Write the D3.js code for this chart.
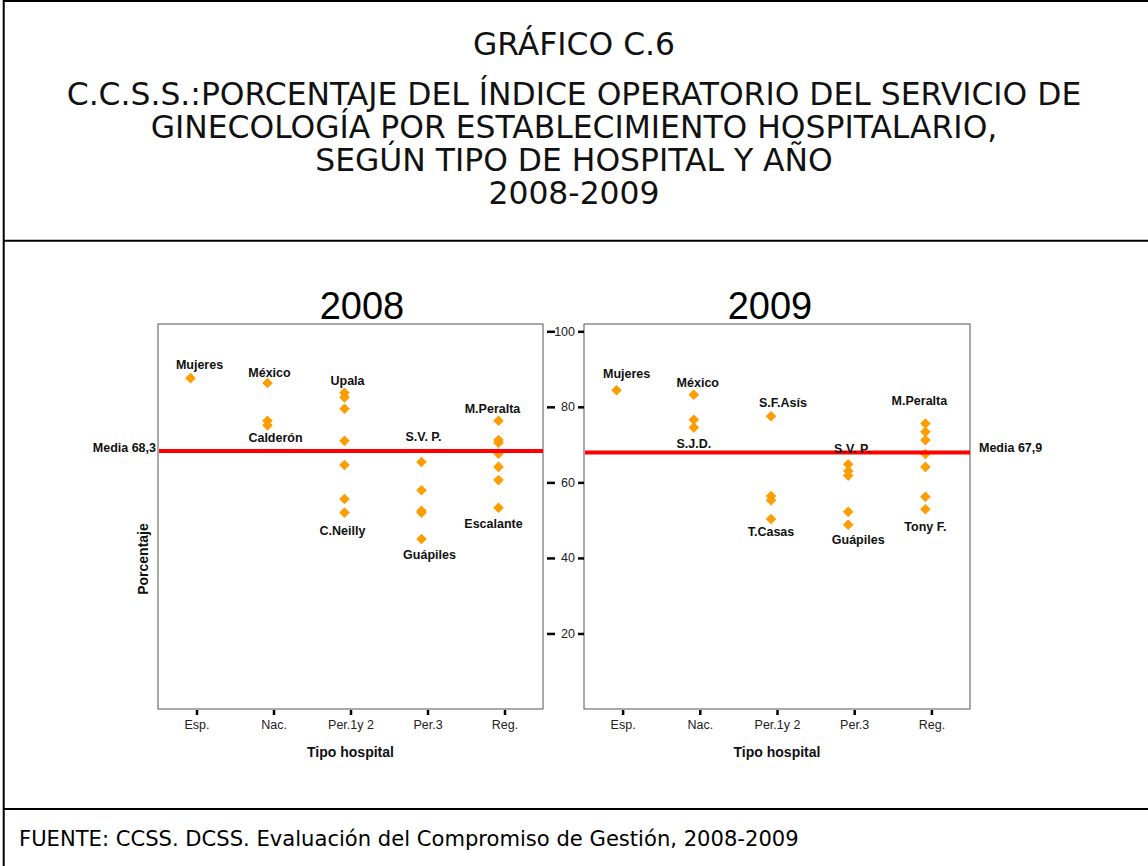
<!DOCTYPE html>
<html>
<head>
<meta charset="utf-8">
<script src="https://cdn.jsdelivr.net/npm/d3@7"></script>
<style>
  html, body { margin: 0; padding: 0; background: #fff; }
  svg { display: block; }
</style>
</head>
<body>
<script>
// ---------------- DATA ----------------
const categories = ["Esp.", "Nac.", "Per.1y 2", "Per.3", "Reg."];
const years = ["2008", "2009"];

const values2008 = [
  [87.6],
  [86.3, 76.3, 75.1],
  [83.7, 82.5, 79.5, 71.0, 64.6, 55.6, 52.0],
  [65.4, 57.9, 52.5, 52.0, 45.0],
  [76.3, 71.2, 70.5, 67.6, 64.1, 60.6, 53.3]
];
const values2009 = [
  [84.4],
  [83.2, 76.6, 74.5],
  [77.5, 56.4, 55.3, 50.3],
  [64.8, 63.0, 61.8, 52.2, 48.8],
  [75.6, 73.4, 71.2, 67.5, 64.1, 56.2, 52.9]
];
const means = [68.3, 67.9];
const meanLabels = ["Media 68,3", "Media 67,9"];
const yTicks = [20, 40, 60, 80, 100];

// hospital name annotations: category and value where the name sits
const names2008 = [
  { text: "Mujeres",   cat: "Esp.",     v: 91.0 },
  { text: "México",    cat: "Nac.",     v: 88.9 },
  { text: "Calderón",  cat: "Nac.",     v: 71.7 },
  { text: "Upala",     cat: "Per.1y 2", v: 86.8 },
  { text: "C.Neilly",  cat: "Per.1y 2", v: 47.2 },
  { text: "S.V. P.",   cat: "Per.3",    v: 72.0 },
  { text: "Guápiles",  cat: "Per.3",    v: 40.7 },
  { text: "M.Peralta", cat: "Reg.",     v: 79.4 },
  { text: "Escalante", cat: "Reg.",     v: 48.9 }
];
const names2009 = [
  { text: "Mujeres",   cat: "Esp.",     v: 88.6 },
  { text: "México",    cat: "Nac.",     v: 86.3 },
  { text: "S.J.D.",    cat: "Nac.",     v: 70.1 },
  { text: "S.F.Asís",  cat: "Per.1y 2", v: 80.9 },
  { text: "T.Casas",   cat: "Per.1y 2", v: 46.9 },
  { text: "S.V. P.",   cat: "Per.3",    v: 68.8 },
  { text: "Guápiles",  cat: "Per.3",    v: 44.7 },
  { text: "M.Peralta", cat: "Reg.",     v: 81.5 },
  { text: "Tony F.",   cat: "Reg.",     v: 48.2 }
];

const titleLines = [
  "GRÁFICO C.6",
  "C.C.S.S.:PORCENTAJE DEL ÍNDICE OPERATORIO DEL SERVICIO DE",
  "GINECOLOGÍA POR ESTABLECIMIENTO HOSPITALARIO,",
  "SEGÚN TIPO DE HOSPITAL Y AÑO",
  "2008-2009"
];
const footerText = "FUENTE: CCSS. DCSS. Evaluación del Compromiso de Gestión, 2008-2009";
const xTitle = "Tipo hospital";
const yTitle = "Porcentaje";

// ---------------- LAYOUT ----------------
const W = 1148, H = 866;
const panels = [{ x0: 158, x1: 543, tx: 362 }, { x0: 584, x1: 970, tx: 770 }];
const plotTop = 324, plotBottom = 709;
const markerShift = -6;        // markers sit slightly left of the tick in the original
const nameDx = [                // horizontal nudges of the name labels
  [3, -4, 2, -3, -8, -4, 2, -12, -11],
  [4, -2, -6, 6, -6, -2, 4, -12, -6]
];
const sans = "Arial, 'Liberation Sans', Helvetica, sans-serif";
const verd = "Verdana, 'DejaVu Sans', sans-serif";

const svg = d3.select("body").append("svg").attr("width", W).attr("height", H);

// outer borders
const border = svg.append("g").attr("stroke", "#000").attr("stroke-width", 2);
border.append("line").attr("x1", 3.7).attr("x2", 3.7).attr("y1", 0).attr("y2", H);
border.append("line").attr("x1", 3).attr("x2", W).attr("y1", 1).attr("y2", 1);
border.append("line").attr("x1", 3).attr("x2", W).attr("y1", 240.7).attr("y2", 240.7);
border.append("line").attr("x1", 3).attr("x2", W).attr("y1", 809).attr("y2", 809);

// title
const titleY = [44, 94, 127, 160, 193];
const tg = svg.append("g").attr("font-family", verd).attr("fill", "#111");
const tNodes = titleLines.map((t, i) =>
  tg.append("text").attr("x", 574).attr("y", titleY[i]).attr("text-anchor", "middle")
    .attr("dominant-baseline", "central").attr("font-size", 24).text(t));
const w2 = tNodes[1].node().getComputedTextLength();
const tfs = 24 * 1015 / w2;
tNodes.forEach(n => n.attr("font-size", tfs));

// footer
const ft = svg.append("text").attr("x", 19).attr("y", 838).attr("dominant-baseline", "central")
  .attr("font-family", verd).attr("font-size", 16).attr("fill", "#000").text(footerText);
const fw = ft.node().getComputedTextLength();
ft.attr("font-size", 16 * 780 / fw);

// y scale
const y = d3.scaleLinear().domain([0, 102]).range([plotBottom, plotBottom - 102 * 3.777]);

const diamond = "M0,-5.3L5.3,0L0,5.3L-5.3,0Z";

[values2008, values2009].forEach((vals, i) => {
  const p = panels[i];
  const x = d3.scalePoint().domain(categories).range([p.x0, p.x1]).padding(0.5);
  const g = svg.append("g");

  // frame
  g.append("rect").attr("x", p.x0).attr("y", plotTop)
    .attr("width", p.x1 - p.x0).attr("height", plotBottom - plotTop)
    .attr("fill", "none").attr("stroke", "#555").attr("stroke-width", 1);

  // points
  const pts = [];
  vals.forEach((arr, ci) => arr.forEach(v => pts.push({ cat: categories[ci], v })));
  g.selectAll("path.pt").data(pts).join("path").attr("class", "pt")
    .attr("d", diamond)
    .attr("transform", d => `translate(${x(d.cat) + markerShift},${y(d.v)})`)
    .attr("fill", "#ff9c00");

  // mean line
  g.append("line").attr("x1", p.x0 + 1).attr("x2", p.x1).attr("y1", y(means[i])).attr("y2", y(means[i]))
    .attr("stroke", "#ff0000").attr("stroke-width", 4);

  // names
  const names = i === 0 ? names2008 : names2009;
  g.selectAll("text.nm").data(names).join("text").attr("class", "nm")
    .attr("x", (d, k) => x(d.cat) + nameDx[i][k]).attr("y", d => y(d.v))
    .attr("text-anchor", "middle").attr("dominant-baseline", "central")
    .attr("font-family", sans).attr("font-weight", "bold").attr("font-size", 12.5)
    .attr("fill", "#111").text(d => d.text);

  // x axis
  const xa = g.append("g").attr("transform", `translate(0,${plotBottom})`)
    .call(d3.axisBottom(x).tickSize(6).tickPadding(5).tickSizeOuter(0));
  xa.select(".domain").remove();
  xa.selectAll(".tick line").attr("stroke", "#000").attr("stroke-width", 2.5).attr("y1", 1);
  xa.selectAll(".tick text").attr("font-family", sans).attr("font-size", 12.5).attr("fill", "#222");

  // x title
  g.append("text").attr("x", (p.x0 + p.x1) / 2).attr("y", 752)
    .attr("text-anchor", "middle").attr("dominant-baseline", "central")
    .attr("font-family", sans).attr("font-weight", "bold").attr("font-size", 14)
    .attr("fill", "#111").text(xTitle);

  // panel title
  g.append("text").attr("x", p.tx).attr("y", 319)
    .attr("text-anchor", "middle").attr("font-family", sans).attr("font-size", 38)
    .attr("fill", "#000").text(years[i]);
});

// mean labels
svg.append("text").attr("x", 156).attr("y", y(means[0]) - 3).attr("text-anchor", "end")
  .attr("dominant-baseline", "central").attr("font-family", sans).attr("font-weight", "bold")
  .attr("font-size", 12.5).attr("fill", "#111").text(meanLabels[0]);
svg.append("text").attr("x", 979).attr("y", y(means[0]) - 3).attr("text-anchor", "start")
  .attr("dominant-baseline", "central").attr("font-family", sans).attr("font-weight", "bold")
  .attr("font-size", 12.5).attr("fill", "#111").text(meanLabels[1]);

// shared y axis between the panels
const yaL = svg.append("g").attr("transform", "translate(547,0)")
  .call(d3.axisRight(y).tickValues(yTicks).tickSize(8).tickFormat(""));
yaL.select(".domain").remove();
yaL.selectAll(".tick line").attr("stroke", "#000").attr("stroke-width", 2.5);
const yaR = svg.append("g").attr("transform", "translate(584,0)")
  .call(d3.axisLeft(y).tickValues(yTicks).tickSize(6).tickPadding(3));
yaR.select(".domain").remove();
yaR.selectAll(".tick line").attr("stroke", "#000").attr("stroke-width", 2.5);
yaR.selectAll(".tick text").attr("font-family", sans).attr("font-size", 12.5).attr("fill", "#222");

// y title
svg.append("text").attr("transform", "translate(143,559) rotate(-90)")
  .attr("text-anchor", "middle").attr("dominant-baseline", "central")
  .attr("font-family", sans).attr("font-weight", "bold").attr("font-size", 14)
  .attr("fill", "#111").text(yTitle);
</script>
</body>
</html>
